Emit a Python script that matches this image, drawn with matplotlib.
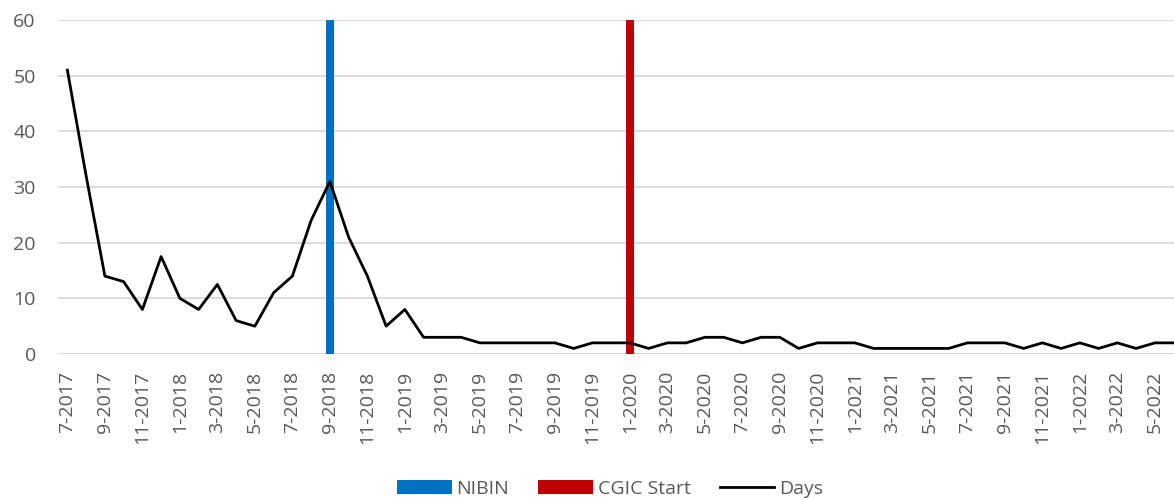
import matplotlib.pyplot as plt
import numpy as np
from matplotlib.patches import Patch
from matplotlib.lines import Line2D

# Monthly series, 7-2017 .. 6-2022
start_month, start_year = 7, 2017
days = [51, 32, 14, 13, 8, 17.5, 10, 8, 12.5, 6, 5, 11,
        14, 24, 31, 21, 14, 5, 8, 3, 3, 3, 2, 2,
        2, 2, 2, 1, 2, 2, 2, 1, 2, 2, 3, 3,
        2, 3, 3, 1, 2, 2, 2, 1, 1, 1, 1, 1,
        2, 2, 2, 1, 2, 1, 2, 1, 2, 1, 2, 2]
nibin_month = "9-2018"
cgic_month = "1-2020"
event_height = 60

months = []
m, y = start_month, start_year
for _ in days:
    months.append(f"{m}-{y}")
    m += 1
    if m > 12:
        m, y = 1, y + 1

plt.rcParams['font.family'] = ['Open Sans', 'DejaVu Sans']

fig = plt.figure(figsize=(11.74, 4.99), dpi=100)
ax = fig.add_axes([58 / 1174, 1 - 354 / 499, 1125 / 1174, 334 / 499])

x = np.arange(len(days))
nibin = [event_height if mo == nibin_month else 0 for mo in months]
cgic = [event_height if mo == cgic_month else 0 for mo in months]

ax.bar(x, nibin, width=0.42, color='#0070c0', zorder=2)
ax.bar(x, cgic, width=0.42, color='#c00000', zorder=2)
ax.plot(x, days, color='black', linewidth=2, zorder=3)

ax.set_xlim(-0.5, len(days) - 0.5)
ax.set_ylim(0, 60)
ax.set_yticks(range(0, 61, 10))
ax.grid(axis='y', color='#d9d9d9', linewidth=1.3)
ax.set_axisbelow(True)
for s in ax.spines.values():
    s.set_visible(False)
ax.axhline(0, color='#d9d9d9', linewidth=1.3, zorder=1)

ax.set_xticks(x[::2])
ax.set_xticklabels(months[::2], rotation=90)
ax.tick_params(axis='both', length=0, labelsize=14, colors='#595959')
ax.tick_params(axis='x', pad=12)
ax.tick_params(axis='y', pad=16)

handles = [
    Patch(facecolor='#0070c0', label='NIBIN'),
    Patch(facecolor='#c00000', label='CGIC Start'),
    Line2D([], [], color='black', linewidth=2, label='Days'),
]
leg = fig.legend(handles=handles, loc='center', bbox_to_anchor=(610 / 1174, 1 - 489 / 499),
                 ncol=3, frameon=False, fontsize=14, handlelength=2.8, handleheight=0.7,
                 columnspacing=1.5, handletextpad=0.25)
for t in leg.get_texts():
    t.set_color('#595959')

fig.savefig('out.png', dpi=100)
